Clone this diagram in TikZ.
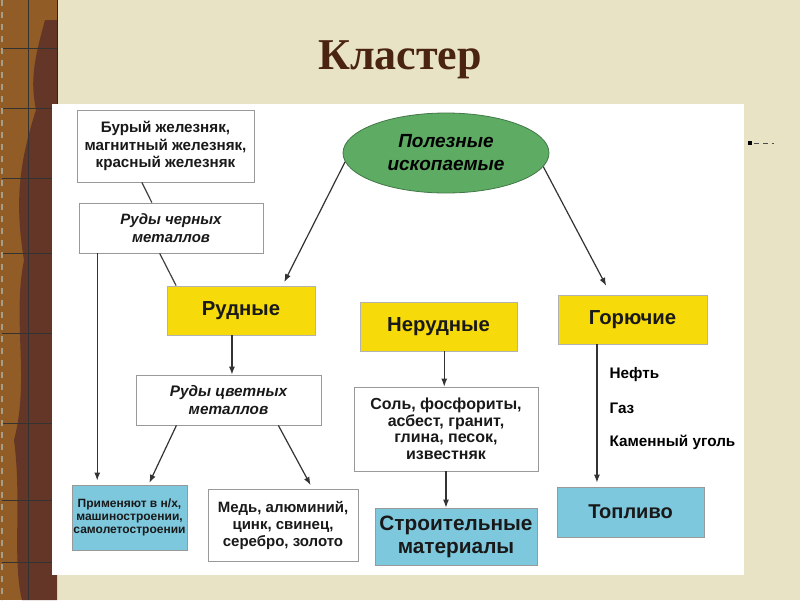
\documentclass[tikz,border=0pt]{standalone}
\usepackage{fontspec}
\setmainfont{Liberation Sans}
\newfontfamily\titlefont{Liberation Serif}
\usetikzlibrary{arrows.meta, shapes.geometric}

\definecolor{paper}{RGB}{233,227,198}
\definecolor{wood}{RGB}{146,92,38}
\definecolor{bark}{RGB}{100,54,40}
\definecolor{titlebrown}{RGB}{74,36,16}
\definecolor{oreyellow}{RGB}{247,218,10}
\definecolor{fuelblue}{RGB}{126,200,222}
\definecolor{mineralgreen}{RGB}{94,172,100}

\begin{document}
\begin{tikzpicture}[x=1pt, y=-1pt,
    box/.style={draw=black!40, line width=0.8pt, fill=white, align=center,
        inner sep=0pt, text=black!90, font=\bfseries\fontsize{15.2}{17.5}\selectfont},
    kind/.style={box, fill=oreyellow, draw=black!30, font=\bfseries\fontsize{20.3}{23}\selectfont},
    result/.style={box, fill=fuelblue},
    arr/.style={-{Latex[length=8pt,width=6pt]}, line width=1.2pt, draw=black!80},
    link/.style={line width=1.2pt, draw=black!75}]

    % page
    \useasboundingbox (0, 0) rectangle (800, 600);
    \fill[paper] (0, 0) rectangle (800, 600);

    % wooden strip on the left
    \fill[wood] (0, 0) rectangle (57, 600);
    \fill[bark] (45, 20) .. controls (34, 60) and (30, 80) .. (36, 110)
        .. controls (20, 160) and (14, 200) .. (24, 260)
        .. controls (12, 320) and (30, 380) .. (14, 440)
        .. controls (22, 500) and (12, 560) .. (22, 600) -- (57, 600) -- (57, 20) -- cycle;
    \fill[wood] (6, 240) .. controls (22, 260) and (24, 300) .. (10, 330) -- cycle;
    \fill[wood] (6, 510) .. controls (18, 530) and (22, 560) .. (8, 590) -- cycle;
    \draw[black!80, line width=0.5pt] (28, 0) -- (28, 600);
    \foreach \y in {48, 108, 178, 253, 333, 423, 500, 562}
        \draw[black!80, line width=0.5pt] (2, \y) -- (57, \y);
    \draw[paper!70!black, line width=2pt, dash pattern=on 6pt off 6pt] (2, 0) -- (2, 600);
    \draw[black!85, line width=1pt] (57, 0) -- (57, 104);

    \node[font=\titlefont\bfseries\fontsize{44}{50}\selectfont, text=titlebrown] (title) at (400, 60) {Кластер};

    % white sheet
    \fill[white] (52, 104) rectangle (744, 575);

    % stray marker
    \fill[black] (748, 141) rectangle (752, 145);
    \draw[black!70, line width=0.6pt, dash pattern=on 5pt off 4pt] (754, 143) -- (774, 143);

    \node[ellipse, draw=mineralgreen!70!black, line width=0.8pt, fill=mineralgreen,
        minimum width=206, minimum height=80, inner sep=0pt, align=center,
        font=\bfseries\itshape\fontsize{19}{23}\selectfont] (minerals) at (446, 153) {Полезные\\ископаемые};

    \node[box, minimum width=177, minimum height=72] (ironores) at (165.5, 146)
        {Бурый железняк,\\магнитный железняк,\\красный железняк};
    \node[box, minimum width=184, minimum height=50, font=\bfseries\itshape\fontsize{15}{17.5}\selectfont]
        (ferrous) at (171, 228) {Руды черных\\металлов};

    \node[kind, minimum width=148, minimum height=49] (ore) at (241, 310.5) {Рудные};
    \node[kind, minimum width=157, minimum height=49] (nonore) at (438.5, 326.5) {Нерудные};
    \node[kind, minimum width=149, minimum height=49] (fuel) at (632.5, 319.5) {Горючие};

    \node[box, minimum width=185, minimum height=50, font=\bfseries\itshape\fontsize{15.3}{17.5}\selectfont]
        (nonferrous) at (228.5, 400) {Руды цветных\\металлов};
    \node[result, minimum width=115, minimum height=65, font=\bfseries\fontsize{12}{13}\selectfont]
        (usage) at (129.5, 517.5) {Применяют в н/х,\\машиностроении,\\самолетостроении};
    \node[box, minimum width=150, minimum height=72, font=\bfseries\fontsize{15}{17}\selectfont]
        (metals) at (283, 525) {Медь, алюминий,\\цинк, свинец,\\серебро, золото};

    \node[box, minimum width=184, minimum height=84, font=\bfseries\fontsize{16}{16.5}\selectfont]
        (rocks) at (446, 429) {Соль, фосфориты,\\асбест, гранит,\\глина, песок,\\известняк};
    \node[result, minimum width=162, minimum height=57, font=\bfseries\fontsize{20.8}{23}\selectfont]
        (building) at (456, 536.5) {Строительные\\материалы};

    \node[result, minimum width=147, minimum height=50, font=\bfseries\fontsize{20}{23}\selectfont]
        (fuelfinal) at (630.5, 512) {Топливо};
    \node[anchor=west, font=\bfseries\fontsize{15.3}{17}\selectfont] (oil) at (606, 375) {Нефть};
    \node[anchor=west, font=\bfseries\fontsize{15.3}{17}\selectfont] (gas) at (606, 408) {Газ};
    \node[anchor=west, font=\bfseries\fontsize{15.3}{17}\selectfont] (coal) at (606, 442) {Каменный уголь};

    \draw[arr, shorten >=4pt] (minerals.185) -- (ore.31.5);
    \draw[arr, shorten >=10pt] (minerals.-8) -- (fuel.131);

    \draw[link] (ironores.-123) -- (ferrous.127);
    \draw[link] (ferrous.-114) -- (ore.159);
    \draw[arr, shorten >=4pt] (ferrous.-161) -- (ferrous.-161 |- usage.north);

    \draw[arr] (ore.-110) -- (ore.-110 |- nonferrous.north);
    \draw[arr, shorten >=2pt] (nonferrous.-154) -- (usage.60);
    \draw[arr, shorten >=4pt] (nonferrous.-27) -- (metals.51);

    \draw[arr] (nonore.-77) -- (nonore.-77 |- rocks.north);
    \draw[arr] (rocks.south) -- (rocks.south |- building.north);

    \draw[arr, shorten >=4pt] (fuel.-145) -- (fuel.-145 |- fuelfinal.north);
\end{tikzpicture}
\end{document}
